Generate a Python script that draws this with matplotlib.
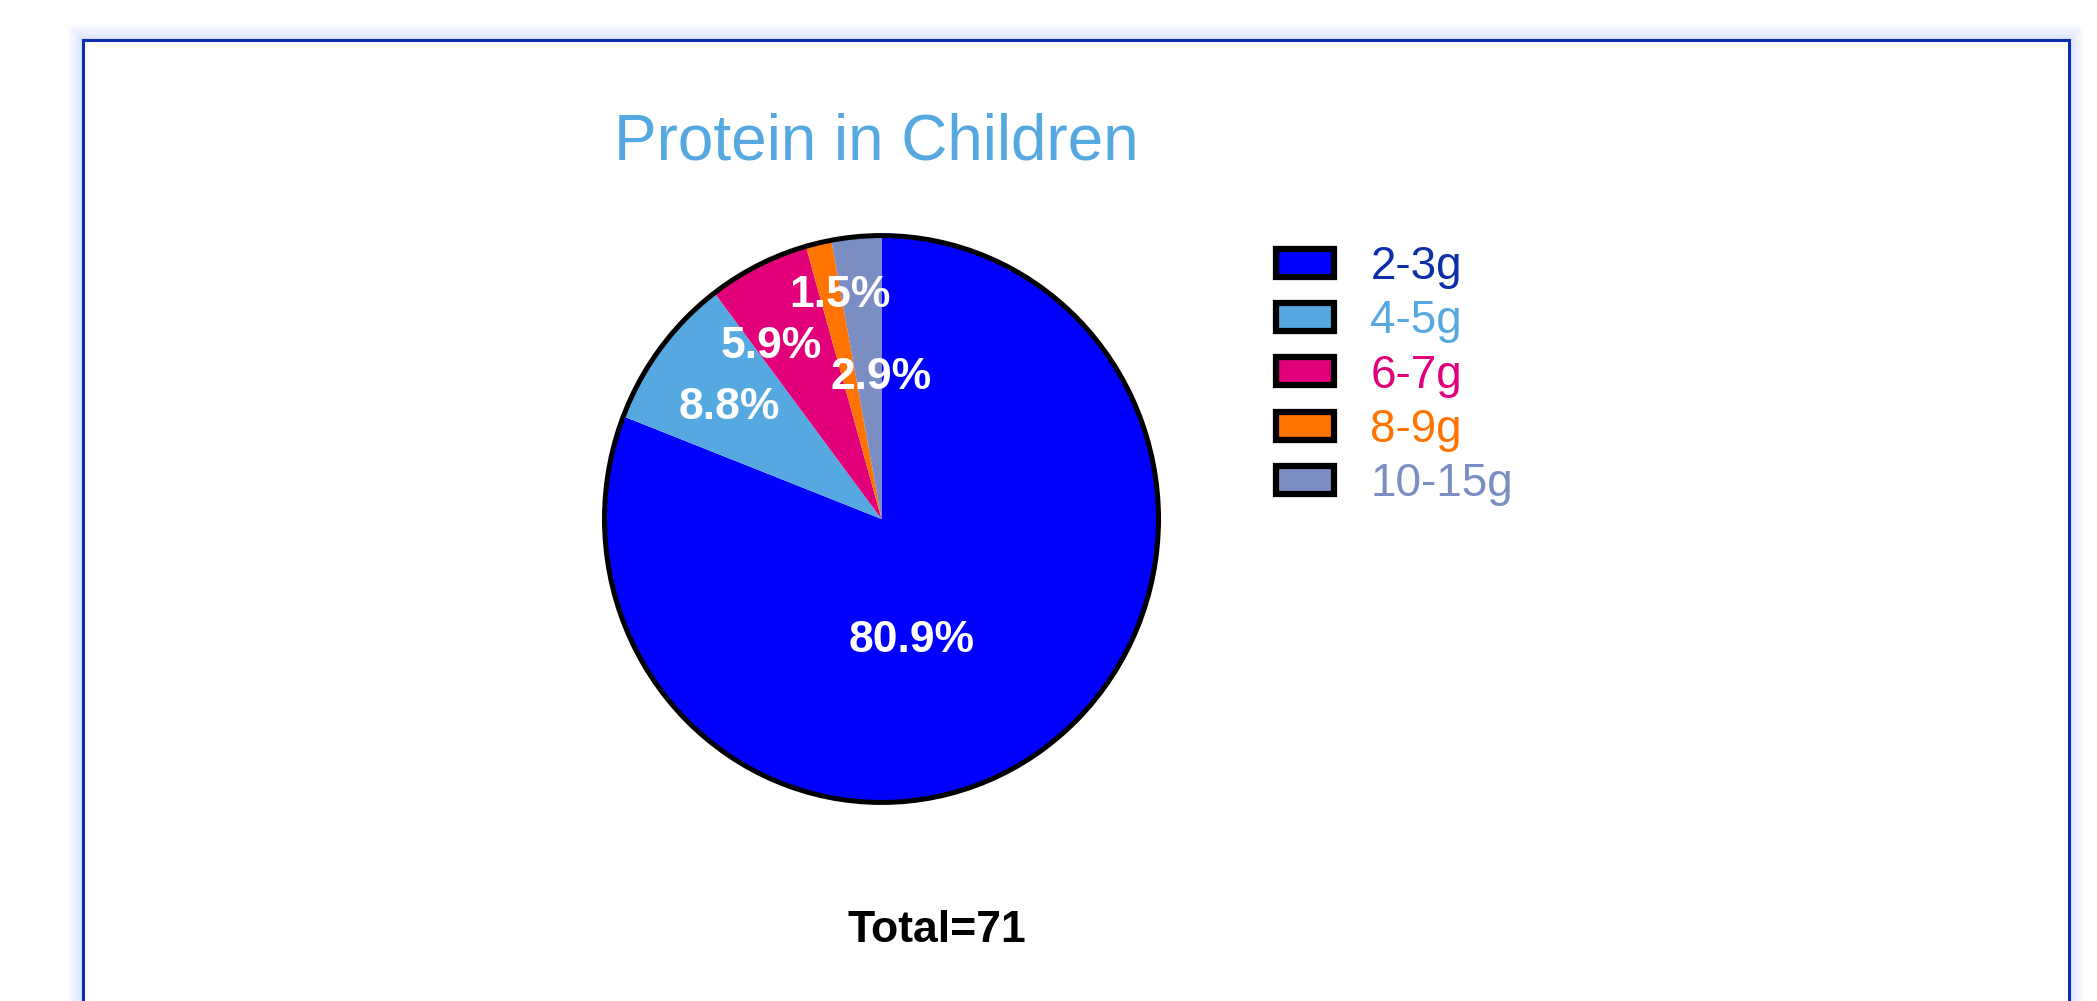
import numpy as np
import matplotlib
matplotlib.use("Agg")
import matplotlib.pyplot as plt
from matplotlib.patches import Patch, Circle, Rectangle

plt.rcParams["font.family"] = ["Liberation Sans", "DejaVu Sans"]

# --- data ---
categories = ["2-3g", "4-5g", "6-7g", "8-9g", "10-15g"]
shares = [80.9, 8.8, 5.9, 1.5, 2.9]
colors = ["#0000FF", "#56A9E0", "#E2007A", "#FF7300", "#7A8EC4"]
legend_text_colors = ["#0a2fa8", "#56A9E0", "#E2007A", "#FF7300", "#7A8EC4"]
title = "Protein in Children"
total_label = "Total=71"

# label placement tweaks (fraction of radius, angle shift in deg)
label_r = [0.43, 0.685, 0.74, 0.815, 0.515]
label_shift = [-19.6, 0.5, 6.1, -2.5, -5.2]

W, H = 2097, 1001
fig = plt.figure(figsize=(W / 100, H / 100), dpi=100)
ax = fig.add_axes([0, 0, 1, 1])
ax.set_xlim(0, W)
ax.set_ylim(0, H)
ax.axis("off")

# outer frame with soft glow
fx0, fx1, ftop = 83, 2069, 40
for i, a in enumerate([0.08, 0.10, 0.12, 0.15, 0.2]):
    lw = (15 - i * 3) * 2 * 0.72
    ax.add_patch(Rectangle((fx0, -30), fx1 - fx0, H - ftop + 30, fill=False,
                           edgecolor="#B9C9FF", lw=lw, alpha=a, zorder=0))
ax.add_patch(Rectangle((fx0, -30), fx1 - fx0, H - ftop + 30, facecolor="white",
                       edgecolor="#0a2fb0", lw=2.2, zorder=1))

# pie in its own axes (slightly taller than wide, as in the original)
pax = fig.add_axes([0, 0, 1, 1])
s = 279.5 / 286.0
pax.axis("off")
cx, cy, R = 881.5, (H - 519) * s, 277
wedges, _ = pax.pie(shares, colors=colors, startangle=90, counterclock=False,
                    center=(cx, cy), radius=R + 1,
                    wedgeprops=dict(linewidth=0))
pax.add_patch(Circle((cx, cy), R, fill=False, edgecolor="black", lw=3.6, zorder=3))
pax.set_xlim(0, W)
pax.set_ylim(0, H * s)
pax.set_aspect("auto")

for w, val, rf, sh in zip(wedges, shares, label_r, label_shift):
    mid = np.deg2rad((w.theta1 + w.theta2) / 2 + sh)
    pax.text(cx + rf * R * np.cos(mid), cy + rf * R * np.sin(mid) - 4 * s,
             f"{val:.1f}%", ha="center", va="center", color="white",
             fontsize=32, fontweight="bold", zorder=4)

ax.text(876, H - 142, title, ha="center", va="center", color="#56A9E0",
        fontsize=46, zorder=4)
pax.text(937, (H - 931) * s, total_label, ha="center", va="center", color="black",
         fontsize=32, fontweight="bold", zorder=4)

handles = [Patch(facecolor=c, edgecolor="black", lw=4.5) for c in colors]
leg = pax.legend(handles, categories, loc="upper left",
                 bbox_to_anchor=(1276, (H - 245) * s), bbox_transform=pax.transData,
                 frameon=False, fontsize=33, borderpad=0, borderaxespad=0,
                 handlelength=1.26, handleheight=0.56, handletextpad=0.8,
                 labelspacing=0.225)
for t, c in zip(leg.get_texts(), legend_text_colors):
    t.set_color(c)

fig.savefig("out.png", dpi=100)
